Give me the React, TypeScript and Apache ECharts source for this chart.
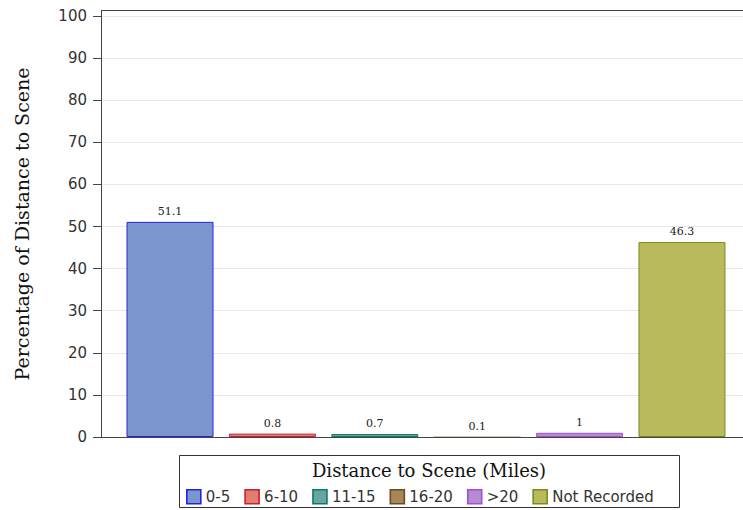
import React, { useEffect, useRef } from "react";
import * as echarts from "echarts";

const categories = ["0-5", "6-10", "11-15", "16-20", ">20", "Not Recorded"];
const values = [51.1, 0.8, 0.7, 0.1, 1, 46.3];
const fillColors = ["#7b96cf", "#de7f70", "#67a59f", "#a9855a", "#b68bcf", "#b8ba5c"];
const borderColors = ["#2424e0", "#c8202e", "#0f7a6a", "#6e4a24", "#a04fe0", "#7b8a1e"];
const yTicks = { min: 0, max: 100, interval: 10 };

const serif = "DejaVu Serif";
const sans = "DejaVu Sans";

export default function App() {
  const ref = useRef<HTMLDivElement>(null);
  useEffect(() => {
    const chart = echarts.init(ref.current!, null, { renderer: "svg" });
    const series = categories.map((name, i) => ({
      name,
      type: "bar",
      barWidth: 87,
      barGap: "-100%",
      data: [
        values[i] < 0.5
          ? { value: [i, values[i]], itemStyle: { borderWidth: 0 } }
          : { value: [i, values[i]] },
      ],
      itemStyle: { color: fillColors[i], borderColor: borderColors[i], borderWidth: 1 },
      label: {
        show: true,
        position: "top",
        distance: 5,
        fontFamily: serif,
        fontSize: 11,
        color: "#222",
        formatter: (p: any) => String(p.value[1]),
      },
    }));
    chart.setOption({
      animation: false,
      grid: { left: 101, right: 0, top: 16, bottom: 73, containLabel: false },
      xAxis: {
        type: "value",
        min: -0.674,
        max: 5.596,
        axisLine: { show: true, onZero: false, lineStyle: { color: "#444", width: 1 } },
        axisTick: { show: false },
        axisLabel: { show: false },
        splitLine: { show: false },
      },
      yAxis: {
        type: "value",
        min: yTicks.min,
        max: yTicks.max,
        interval: yTicks.interval,
        axisLine: { show: true, onZero: false, lineStyle: { color: "#444", width: 1 } },
        axisTick: { show: true, length: 8, lineStyle: { color: "#444" } },
        axisLabel: { margin: 14, fontFamily: sans, fontSize: 15, color: "#333" },
        splitLine: { show: true, lineStyle: { color: "#e8e8e8", width: 1 } },
      },
      legend: {
        left: 186,
        top: 489,
        padding: 0,
        itemWidth: 14,
        itemHeight: 14,
        itemGap: 14,
        icon: "rect",
        data: categories,
        itemStyle: { borderWidth: 1.6 },
        textStyle: { fontFamily: sans, fontSize: 15, color: "#333" },
        selectedMode: false,
      },
      graphic: [
        { type: "line", shape: { x1: 101, y1: 10.5, x2: 743, y2: 10.5 }, style: { stroke: "#444", lineWidth: 1 } },
        { type: "line", shape: { x1: 101.5, y1: 10.5, x2: 101.5, y2: 16 }, style: { stroke: "#444", lineWidth: 1 } },
        {
          type: "text",
          x: 22,
          y: 224,
          rotation: Math.PI / 2,
          style: {
            text: "Percentage of Distance to Scene",
            fontFamily: serif,
            fontSize: 19,
            fill: "#111",
            align: "center",
            verticalAlign: "middle",
          },
        },
        {
          type: "rect",
          shape: { x: 179.5, y: 455.5, width: 500, height: 52 },
          style: { fill: "none", stroke: "#333", lineWidth: 1 },
        },
        {
          type: "text",
          x: 429,
          y: 470,
          style: {
            text: "Distance to Scene (Miles)",
            fontFamily: serif,
            fontSize: 18,
            fill: "#111",
            align: "center",
            verticalAlign: "middle",
          },
        },
      ],
      series,
    });
    return () => chart.dispose();
  }, []);
  return <div ref={ref} style={{ width: 743, height: 510, position: "absolute", left: 0, top: 0 }} />;
}
